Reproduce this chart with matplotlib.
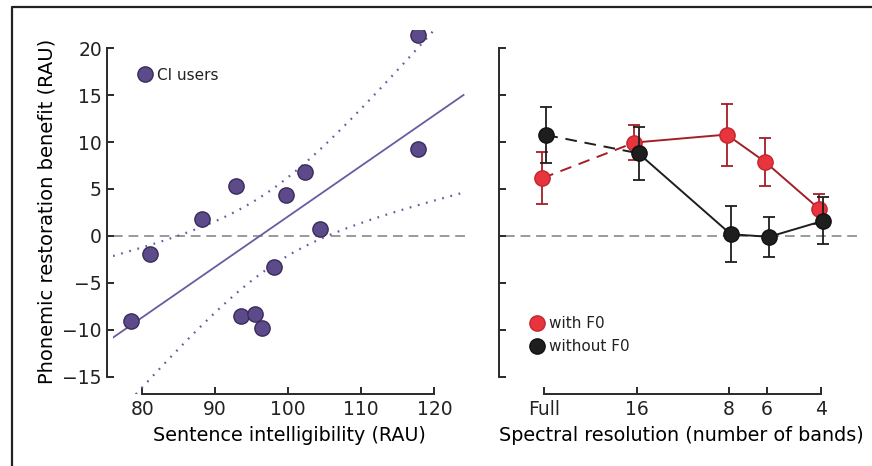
import numpy as np
import matplotlib
matplotlib.use("Agg")
import matplotlib.pyplot as plt
from matplotlib.lines import Line2D
from matplotlib.ticker import NullLocator

# left panel: CI users
intelligibility = [117.8, 117.8, 92.9, 88.2, 99.7, 102.3, 104.3,
                   81.1, 78.4, 98.0, 93.5, 95.5, 96.4]
restoration = [21.4, 9.3, 5.3, 1.8, 4.4, 6.8, 0.7,
               -1.9, -9.1, -3.3, -8.5, -8.3, -9.8]

# right panel: spectral resolution
bands = [32, 16, 8, 6, 4]
band_labels = ["Full", "16", "8", "6", "4"]
with_f0 = [6.15, 9.95, 10.8, 7.9, 2.9]
with_f0_err = [2.8, 1.85, 3.3, 2.55, 1.6]
without_f0 = [10.75, 8.8, 0.18, -0.1, 1.6]
without_f0_err = [3.0, 2.85, 3.0, 2.15, 2.5]

purple = "#5d4a8a"
purple_edge = "#3b2b5a"
red_face = "#e8343c"
red_line = "#a31f28"
dark = "#1e1e1e"
grey = "#9a9a9a"
spine_col = "#2a2a2a"

plt.rcParams["font.family"] = "DejaVu Sans"
plt.rcParams["text.color"] = "#222222"

fig = plt.figure(figsize=(8.72, 4.66), dpi=100)
W, H = 872, 466
ax1 = fig.add_axes([113 / W, 1 - 393.5 / H, (465 - 113) / W, (393.5 - 29.5) / H])
ax2 = fig.add_axes([505 / W, 1 - 393.5 / H, (857 - 505) / W, (393.5 - 29.5) / H], sharey=ax1)

# regression fit + 95% confidence band
x = np.array(intelligibility)
y = np.array(restoration)
n = len(x)
slope, intercept = np.polyfit(x, y, 1)
resid = y - (slope * x + intercept)
s = np.sqrt(np.sum(resid ** 2) / (n - 2))
sxx = np.sum((x - x.mean()) ** 2)
t_crit = 2.201  # t(0.975, df=11)
xs = np.linspace(76, 124, 200)
fit = slope * xs + intercept
half = t_crit * s * np.sqrt(1 / n + (xs - x.mean()) ** 2 / sxx)

ax1.axhline(0, color=grey, lw=1.4, ls=(0, (5, 3)), zorder=1)
ax1.plot(xs, fit, color="#6b5b9e", lw=1.3, zorder=2)
ax1.plot(xs, fit + half, color="#6b5b9e", lw=1.6, ls=(0, (0.8, 3)), zorder=2)
ax1.plot(xs, fit - half, color="#6b5b9e", lw=1.6, ls=(0, (0.8, 3)), zorder=2)
ax1.plot(x, y, "o", ms=11, mfc=purple, mec=purple_edge, mew=1.0, ls="none",
         label="CI users", zorder=3)
ax1.set_xlim(76, 124.2)
ax1.set_ylim(-16.8, 22)
ax1.set_xticks([80, 90, 100, 110, 120])
ax1.set_yticks([-15, -10, -5, 0, 5, 10, 15, 20])
ax1.set_yticklabels(["\u221215", "\u221210", "\u22125", "0", "5", "10", "15", "20"])
ax1.set_xlabel("Sentence intelligibility (RAU)", fontsize=13.8, labelpad=5)
ax1.set_ylabel("Phonemic restoration benefit (RAU)", fontsize=14, labelpad=4)
ax1.legend(loc="center left", bbox_to_anchor=(0.03, 0.875), frameon=False,
           handlelength=1.0, handletextpad=0.3, fontsize=11)

# right panel
off = 2 ** 0.022
xr = [b * off for b in bands]
xb = [b / off for b in bands]
ax2.axhline(0, color=grey, lw=1.4, ls=(0, (5, 3)), zorder=1)
ax2.plot(xr[:2], with_f0[:2], color=red_line, lw=1.4, ls=(0, (6, 4)), zorder=2)
ax2.plot(xr[1:], with_f0[1:], color=red_line, lw=1.4, zorder=2)
ax2.errorbar(xr, with_f0, yerr=with_f0_err, fmt="none", ecolor=red_line,
             elinewidth=1.3, capsize=4, capthick=1.3, zorder=2)
ax2.plot(xr, with_f0, "o", ms=11, mfc=red_face, mec="#c0272f", mew=1.0,
         ls="none", label="with F0", zorder=3)
ax2.plot(xb[:2], without_f0[:2], color=dark, lw=1.4, ls=(0, (6, 4)), zorder=4)
ax2.plot(xb[1:], without_f0[1:], color=dark, lw=1.4, zorder=4)
ax2.errorbar(xb, without_f0, yerr=without_f0_err, fmt="none", ecolor=dark,
             elinewidth=1.3, capsize=4, capthick=1.3, zorder=4)
ax2.plot(xb, without_f0, "o", ms=11, mfc=dark, mec="#111111", mew=1.0,
         ls="none", label="without F0", zorder=5)
ax2.set_xscale("log", base=2)
ax2.set_xlim(43, 3.05)
ax2.set_xticks(bands)
ax2.set_xticklabels(band_labels)
ax2.xaxis.set_minor_locator(NullLocator())
ax2.tick_params(axis="y", labelleft=False)
ax2.set_xlabel("Spectral resolution (number of bands)", fontsize=13.8, labelpad=5)
ax2.legend(loc="center left", bbox_to_anchor=(0.03, 0.16), frameon=False,
           handlelength=1.0, handletextpad=0.3, fontsize=11, labelspacing=0.5)

for ax, xb_lim in [(ax1, (80, 120)), (ax2, (32, 4))]:
    ax.spines["top"].set_visible(False)
    ax.spines["right"].set_visible(False)
    ax.spines["left"].set_position(("outward", 4.5))
    ax.spines["left"].set_bounds(-15, 20)
    ax.spines["bottom"].set_bounds(*xb_lim)
    for sp in ("left", "bottom"):
        ax.spines[sp].set_linewidth(1.4)
        ax.spines[sp].set_color(spine_col)
    ax.tick_params(direction="in", length=5, width=1.4, color=spine_col,
                   labelsize=13.5, labelcolor="#222222")
    ax.tick_params(axis="x", pad=5)
    ax.patch.set_alpha(0)

# frame of the figure panel
fig.add_artist(Line2D([12 / W, 12 / W, 1.01], [-0.01, 1 - 7 / H, 1 - 7 / H],
                      transform=fig.transFigure, color="#222222", lw=1.6))

fig.savefig("out.png", dpi=100)
